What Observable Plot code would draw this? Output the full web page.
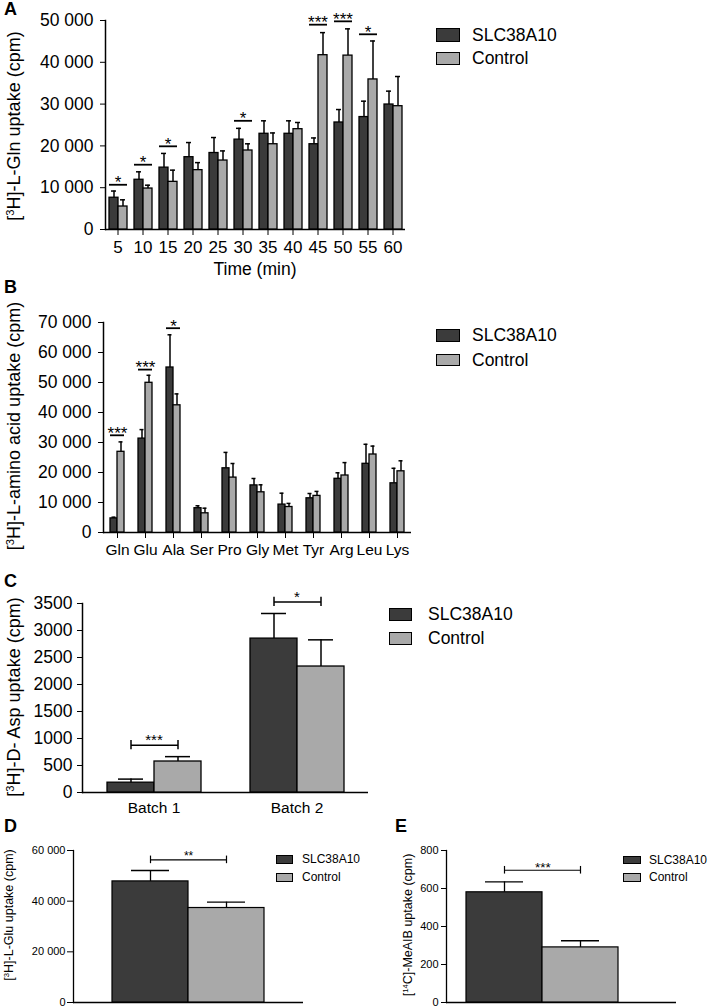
<!DOCTYPE html>
<html>
<head>
<meta charset="utf-8">
<script src="https://cdn.jsdelivr.net/npm/d3@7"></script>
<script src="https://cdn.jsdelivr.net/npm/@observablehq/plot@0.6"></script>
<style>
  body { margin: 0; background: #fff; }
  #page { position: relative; width: 709px; height: 1007px; overflow: hidden; font-family: "Liberation Sans", Arial, sans-serif; color: #000; }
  .panel, .txt, .legend { position: absolute; }
  .txt { white-space: nowrap; line-height: 1; }
  .ytitle { transform: translate(-50%, -50%) rotate(-90deg); }
  .xtitle { transform: translate(-50%, -50%); }
  .sup { font-size: 0.62em; position: relative; top: -0.5em; }
  .letter { font-weight: bold; font-size: 18px; }
  .legend .row { display: flex; align-items: center; white-space: nowrap; }
  .legend .sw { box-sizing: border-box; border: 1.5px solid #000; }
</style>
</head>
<body>
<div id="page"></div>
<script>
const groups = ["SLC38A10", "Control"];
const fills = ["#3b3b3b", "#a9a9a9"];

// A - Gln uptake over time
const timeMin = [5, 10, 15, 20, 25, 30, 35, 40, 45, 50, 55, 60];
const glnSlc = [7600, 11900, 14800, 17300, 18300, 21500, 22900, 22900, 20400, 25600, 26900, 29900];
const glnSlcErr = [1600, 1900, 3400, 3500, 3700, 2700, 3100, 3100, 1500, 3100, 3800, 3200];
const glnCtl = [5500, 9800, 11400, 14200, 16500, 18900, 20400, 24000, 41700, 41600, 35900, 29500];
const glnCtlErr = [1600, 800, 2800, 1800, 2300, 1600, 2700, 1600, 5400, 6400, 9200, 7100];
const glnSigAt = [5, 10, 15, 30, 45, 50, 55];
const glnSigLevel = [10700, 15500, 19900, 26000, 49000, 49800, 46700];
const glnSigMark = ["*", "*", "*", "*", "***", "***", "*"];
const glnTicks = [0, 10000, 20000, 30000, 40000, 50000];

// B - amino acids
const aminoAcids = ["Gln", "Glu", "Ala", "Ser", "Pro", "Gly", "Met", "Tyr", "Arg", "Leu", "Lys"];
const aaSlc = [4700, 31300, 55000, 8100, 21400, 15700, 9300, 11400, 17900, 22900, 16400];
const aaSlcErr = [400, 3000, 10900, 800, 5300, 2300, 3800, 1600, 2000, 6500, 5000];
const aaCtl = [26900, 49900, 42400, 6400, 18300, 13400, 8500, 12200, 19000, 26000, 20400];
const aaCtlErr = [3300, 2500, 3800, 1700, 4700, 2500, 1200, 1500, 4300, 2800, 3500];
const aaSigAt = ["Gln", "Glu", "Ala"];
const aaSigLevel = [32400, 54300, 68100];
const aaSigMark = ["***", "***", "*"];
const aaTicks = [0, 10000, 20000, 30000, 40000, 50000, 60000, 70000];

// C - D-Asp
const batches = ["Batch 1", "Batch 2"];
const aspSlc = [182, 2850];
const aspSlcErr = [66, 465];
const aspCtl = [574, 2333];
const aspCtlErr = [90, 494];
const aspSigLevel = [877, 3530];
const aspSigMark = ["***", "*"];
const aspTicks = [0, 500, 1000, 1500, 2000, 2500, 3000, 3500];

// D - L-Glu
const gluVal = [47800, 37300];
const gluErr = [4300, 2300];
const gluSigLevel = 56300;
const gluSigMark = "**";
const gluTicks = [0, 20000, 40000, 60000];

// E - MeAIB
const meaibVal = [580, 290];
const meaibErr = [55, 35];
const meaibSigLevel = 696;
const meaibSigMark = "***";
const meaibTicks = [0, 200, 400, 600, 800];

const font = "'Liberation Sans', Arial, sans-serif";
const spaced = d => d3.format(",")(d).replace(/,/g, " ");
const page = d3.select("#page");

function rows(cats, a, aErr, b, bErr) {
  return cats.flatMap((c, i) => [
    {cat: c, grp: groups[0], v: a[i], top: a[i] + aErr[i]},
    {cat: c, grp: groups[1], v: b[i], top: b[i] + bErr[i]}
  ]);
}
function sigRows(cats, levels, marks, tick) {
  return cats.map((c, i) => ({cat: c, level: levels[i], mark: marks[i], tick}));
}
function bothGroups(rs) {
  return rs.flatMap(r => groups.map(g => ({...r, grp: g})));
}

// grouped bars, one facet per category
function grouped(o) {
  const data = rows(o.cats, o.a, o.aErr, o.b, o.bErr);
  const sig = sigRows(o.sigCats, o.sigLevels, o.sigMarks, o.ymax * 0.025);
  const sigLines = o.bracket ? [
    Plot.link(sig, {fx: "cat", x1: () => groups[0], x2: () => groups[1], y1: "level", y2: "level", strokeWidth: 1.5}),
    Plot.ruleX(bothGroups(sig), {fx: "cat", x: "grp", y1: d => d.level - d.tick, y2: d => d.level + d.tick, strokeWidth: 1.5})
  ] : [
    Plot.tickY(bothGroups(sig), {fx: "cat", x: "grp", y: "level", strokeWidth: 1.8})
  ];
  return Plot.plot({
    width: o.width, height: o.height,
    marginLeft: o.ml, marginRight: o.mr, marginTop: o.mt, marginBottom: o.mb,
    style: {fontFamily: font, fontSize: o.tickFont + "px", color: "#000", background: "transparent", overflow: "visible"},
    fx: {domain: o.cats, padding: 0, label: null},
    x: {domain: groups, paddingInner: 0, paddingOuter: o.po, axis: null},
    y: {domain: [0, o.ymax]},
    color: {domain: groups, range: fills},
    marks: [
      Plot.frame({anchor: "left", facetAnchor: "left", strokeWidth: 1.5}),
      Plot.ruleY([0], {strokeWidth: 1.5}),
      Plot.barY(data, {fx: "cat", x: "grp", y: "v", fill: "grp", stroke: "#000", strokeWidth: 1.3, inset: 0}),
      Plot.ruleX(data, {fx: "cat", x: "grp", y1: "v", y2: "top", strokeWidth: 1.5}),
      Plot.tickY(data, {fx: "cat", x: "grp", y: "top", insetLeft: o.cap, insetRight: o.cap, strokeWidth: 1.5}),
      ...sigLines,
      Plot.text(sig, {fx: "cat", y: "level", text: "mark", lineAnchor: "middle", dy: o.starDy, fontSize: o.starFont}),
      Plot.axisY({ticks: o.ticks, tickFormat: o.fmt, tickSize: 5, tickPadding: o.tickPad, label: null, fontSize: o.tickFont}),
      Plot.axisFx({anchor: "bottom", tickSize: o.catTick, tickPadding: o.catPad, label: null, fontSize: o.catFont})
    ]
  });
}

// a single pair of bars
function single(o) {
  const data = groups.map((g, i) => ({grp: g, v: o.vals[i], top: o.vals[i] + o.errs[i]}));
  const sig = [{level: o.sigLevel, mark: o.sigMark, tick: o.ymax * 0.025}];
  const bw = (o.width - o.ml - o.mr) / (2 + 2 * o.po);
  return Plot.plot({
    width: o.width, height: o.height,
    marginLeft: o.ml, marginRight: o.mr, marginTop: o.mt, marginBottom: o.mb,
    style: {fontFamily: font, fontSize: "11px", color: "#000", background: "transparent", overflow: "visible"},
    x: {domain: groups, paddingInner: 0, paddingOuter: o.po, align: o.align, axis: null},
    y: {domain: [0, o.ymax]},
    color: {domain: groups, range: fills},
    marks: [
      Plot.frame({anchor: "left", strokeWidth: 1.3}),
      Plot.ruleY([0], {strokeWidth: 1.3}),
      Plot.barY(data, {x: "grp", y: "v", fill: "grp", stroke: "#000", strokeWidth: 1.2, inset: 0}),
      Plot.ruleX(data, {x: "grp", y1: "v", y2: "top", strokeWidth: 1.3}),
      Plot.tickY(data, {x: "grp", y: "top", insetLeft: o.cap, insetRight: o.cap, strokeWidth: 1.3}),
      Plot.link(sig, {x1: () => groups[0], x2: () => groups[1], y1: "level", y2: "level", strokeWidth: 1.2}),
      Plot.ruleX(bothGroups(sig), {x: "grp", y1: d => d.level - d.tick, y2: d => d.level + d.tick, strokeWidth: 1.2}),
      Plot.text(sig, {x: () => groups[0], dx: bw / 2, y: "level", text: "mark", lineAnchor: "middle", dy: o.starDy, fontSize: o.starFont}),
      Plot.axisY({ticks: o.ticks, tickFormat: o.fmt, tickSize: o.tickSize, tickPadding: o.tickPad, label: null, fontSize: 11})
    ]
  });
}

function place(node, left, top, width) {
  page.append("div").attr("class", "panel")
    .style("left", left + "px").style("top", top + "px").style("width", width + "px")
    .node().append(node);
}
function text(cls, html, x, y, size) {
  page.append("div").attr("class", "txt " + cls)
    .style("left", x + "px").style("top", y + "px").style("font-size", size + "px")
    .html(html);
}
function legend(left, top, o) {
  const box = page.append("div").attr("class", "legend")
    .style("left", left + "px").style("top", top + "px").style("font-size", o.fs + "px");
  groups.forEach((g, i) => {
    const row = box.append("div").attr("class", "row").style("height", o.pitch + "px");
    row.append("div").attr("class", "sw")
      .style("width", o.w + "px").style("height", o.h + "px")
      .style("margin-right", o.gap + "px").style("background", fills[i]);
    row.append("span").text(g);
  });
}

// A
place(grouped({
  cats: timeMin, a: glnSlc, aErr: glnSlcErr, b: glnCtl, bErr: glnCtlErr,
  sigCats: glnSigAt, sigLevels: glnSigLevel, sigMarks: glnSigMark, bracket: false,
  width: 425, height: 260, ml: 100, mr: 15, mt: 20, mb: 31, po: 0.38, cap: 2,
  ymax: 50000, ticks: glnTicks, fmt: spaced, tickFont: 17.5, tickPad: 7,
  catFont: 17, catTick: 6, catPad: 5, starFont: 17, starDy: -2
}), 0, 0, 425);

// B
place(grouped({
  cats: aminoAcids, a: aaSlc, aErr: aaSlcErr, b: aaCtl, bErr: aaCtlErr,
  sigCats: aaSigAt, sigLevels: aaSigLevel, sigMarks: aaSigMark, bracket: false,
  width: 425, height: 292, ml: 98, mr: 10, mt: 52, mb: 30, po: 0.83, cap: 1.5,
  ymax: 70000, ticks: aaTicks, fmt: spaced, tickFont: 17.5, tickPad: 7,
  catFont: 15.5, catTick: 6, catPad: 5, starFont: 17, starDy: -2
}), 0, 270, 425);

// C
place(grouped({
  cats: batches, a: aspSlc, aErr: aspSlcErr, b: aspCtl, bErr: aspCtlErr,
  sigCats: batches, sigLevels: aspSigLevel, sigMarks: aspSigMark, bracket: true,
  width: 380, height: 240, ml: 82, mr: 12, mt: 23, mb: 28, po: 0.49, cap: 11,
  ymax: 3500, ticks: aspTicks, fmt: d3.format("d"), tickFont: 17.5, tickPad: 5,
  catFont: 15.5, catTick: 0, catPad: 9, starFont: 15, starDy: -5
}), 0, 580, 380);

// D
place(single({
  vals: gluVal, errs: gluErr, sigLevel: gluSigLevel, sigMark: gluSigMark,
  width: 320, height: 207, ml: 73, mr: 17, mt: 50, mb: 5, po: 0.51, align: 0.5, cap: 19,
  ymax: 60000, ticks: gluTicks, fmt: spaced, tickSize: 6, tickPad: 2,
  starFont: 12, starDy: -3.5
}), 0, 800, 320);

// E
place(single({
  vals: meaibVal, errs: meaibErr, sigLevel: meaibSigLevel, sigMark: meaibSigMark,
  width: 330, height: 207, ml: 86, mr: 14, mt: 50, mb: 5, po: 0.494, align: 0.25, cap: 19,
  ymax: 800, ticks: meaibTicks, fmt: d3.format("d"), tickSize: 5, tickPad: 3,
  starFont: 13.5, starDy: -3
}), 360, 800, 330);

// titles and panel letters
text("ytitle", '[<span class="sup">3</span>H]-L-Gln uptake (cpm)', 14, 126, 18);
text("xtitle", "Time (min)", 255, 270, 17.5);
text("ytitle", '[<span class="sup">3</span>H]-L-amino acid uptake (cpm)', 14, 426, 18);
text("ytitle", '[<span class="sup">3</span>H]-D- Asp uptake (cpm)', 14, 697, 18);
text("ytitle", '[<span class="sup">3</span>H]-L-Glu uptake (cpm)', 9, 915, 12.5);
text("ytitle", '[<span class="sup">14</span>C]-MeAIB uptake (cpm)', 408, 925, 12.5);

text("letter", "A", 4, 0, 18);
text("letter", "B", 4, 278, 18);
text("letter", "C", 4, 572, 18);
text("letter", "D", 4, 817, 18);
text("letter", "E", 395, 817, 18);

legend(436, 23.3, {w: 24, h: 13.5, pitch: 23.5, gap: 12, fs: 17.5});
legend(436, 323.2, {w: 23.5, h: 12.5, pitch: 24.7, gap: 12.5, fs: 17.5});
legend(389, 602.3, {w: 23, h: 12.5, pitch: 24, gap: 16, fs: 17.5});
legend(276, 850.6, {w: 17, h: 9, pitch: 17.7, gap: 9, fs: 12});
legend(623, 851, {w: 18, h: 8.5, pitch: 17.5, gap: 8, fs: 12});
</script>
</body>
</html>
